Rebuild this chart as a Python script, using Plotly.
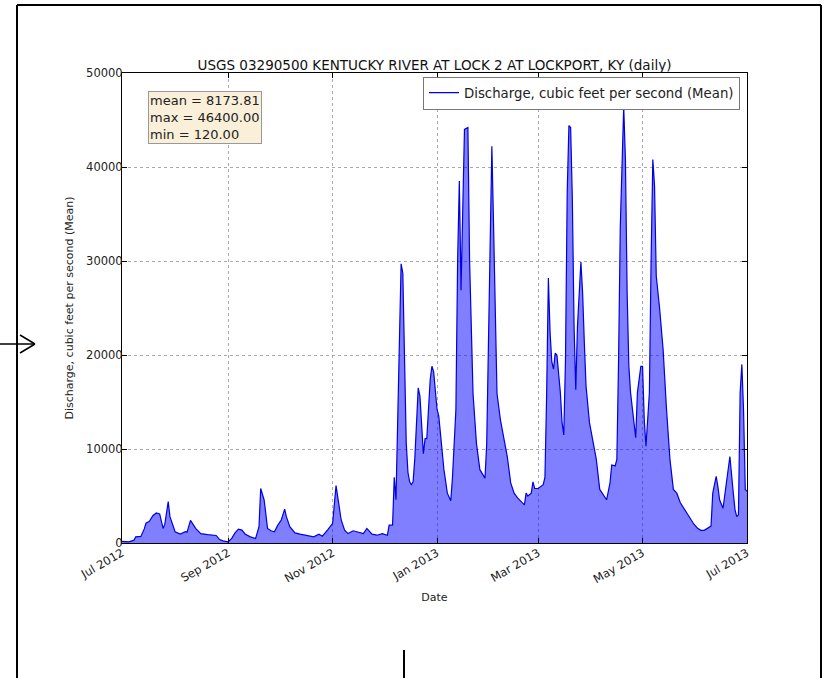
import plotly.graph_objects as go

# ---- data (daily mean discharge, cfs) ----
dates = [
    "2012-07-01", "2012-07-05", "2012-07-08", "2012-07-09", "2012-07-12", "2012-07-14", "2012-07-15",
    "2012-07-17", "2012-07-19", "2012-07-21", "2012-07-23", "2012-07-25", "2012-07-26", "2012-07-28",
    "2012-07-29", "2012-08-01", "2012-08-04", "2012-08-07", "2012-08-08", "2012-08-10", "2012-08-13",
    "2012-08-16", "2012-08-20", "2012-08-23", "2012-08-25", "2012-08-27", "2012-08-29", "2012-09-01",
    "2012-09-03", "2012-09-05", "2012-09-07", "2012-09-09", "2012-09-11", "2012-09-14", "2012-09-17",
    "2012-09-19", "2012-09-20", "2012-09-22", "2012-09-24", "2012-09-26", "2012-09-28", "2012-09-30",
    "2012-10-02", "2012-10-04", "2012-10-05", "2012-10-07", "2012-10-10", "2012-10-13", "2012-10-17",
    "2012-10-21", "2012-10-24", "2012-10-26", "2012-10-29", "2012-11-01", "2012-11-03", "2012-11-04",
    "2012-11-06", "2012-11-08", "2012-11-10", "2012-11-13", "2012-11-16", "2012-11-19", "2012-11-21",
    "2012-11-24", "2012-11-27", "2012-11-30", "2012-12-03", "2012-12-04", "2012-12-06", "2012-12-07",
    "2012-12-08", "2012-12-09", "2012-12-10", "2012-12-11", "2012-12-12", "2012-12-13", "2012-12-14",
    "2012-12-15", "2012-12-16", "2012-12-17", "2012-12-18", "2012-12-19", "2012-12-20", "2012-12-21",
    "2012-12-22", "2012-12-23", "2012-12-24", "2012-12-25", "2012-12-26", "2012-12-28", "2012-12-29",
    "2012-12-30", "2013-01-01", "2013-01-02", "2013-01-03", "2013-01-05", "2013-01-07", "2013-01-09",
    "2013-01-10", "2013-01-12", "2013-01-13", "2013-01-14", "2013-01-15", "2013-01-16", "2013-01-17",
    "2013-01-19", "2013-01-20", "2013-01-22", "2013-01-24", "2013-01-26", "2013-01-29", "2013-01-30",
    "2013-01-31", "2013-02-01", "2013-02-02", "2013-02-03", "2013-02-04", "2013-02-05", "2013-02-07",
    "2013-02-09", "2013-02-11", "2013-02-13", "2013-02-15", "2013-02-17", "2013-02-19", "2013-02-21",
    "2013-02-22", "2013-02-23", "2013-02-25", "2013-02-26", "2013-02-27", "2013-03-01", "2013-03-04",
    "2013-03-05", "2013-03-06", "2013-03-07", "2013-03-08", "2013-03-09", "2013-03-10", "2013-03-11",
    "2013-03-12", "2013-03-14", "2013-03-15", "2013-03-16", "2013-03-17", "2013-03-18", "2013-03-19",
    "2013-03-20", "2013-03-21", "2013-03-22", "2013-03-23", "2013-03-24", "2013-03-26", "2013-03-27",
    "2013-03-28", "2013-03-29", "2013-03-31", "2013-04-02", "2013-04-04", "2013-04-06", "2013-04-08",
    "2013-04-10", "2013-04-12", "2013-04-13", "2013-04-15", "2013-04-16", "2013-04-17", "2013-04-18",
    "2013-04-20", "2013-04-21", "2013-04-22", "2013-04-23", "2013-04-24", "2013-04-27", "2013-04-28",
    "2013-04-30", "2013-05-01", "2013-05-02", "2013-05-03", "2013-05-05", "2013-05-06", "2013-05-07",
    "2013-05-08", "2013-05-09", "2013-05-11", "2013-05-13", "2013-05-15", "2013-05-17", "2013-05-19",
    "2013-05-21", "2013-05-23", "2013-05-25", "2013-05-27", "2013-05-29", "2013-05-31", "2013-06-02",
    "2013-06-04", "2013-06-06", "2013-06-08", "2013-06-10", "2013-06-11", "2013-06-13", "2013-06-14",
    "2013-06-15", "2013-06-17", "2013-06-19", "2013-06-21", "2013-06-23", "2013-06-24", "2013-06-25",
    "2013-06-26", "2013-06-27", "2013-06-28", "2013-06-29", "2013-06-30", "2013-07-01",
]
discharge = [
    180, 120, 300, 650, 700, 1500, 2100,
    2300, 2900, 3200, 3100, 1550, 2000, 4400,
    2800, 1200, 940, 1200, 1150, 2400, 1550,
    1000, 900, 830, 800, 360, 220, 130,
    470, 1080, 1480, 1370, 940, 650, 470,
    1730, 5800, 4600, 1550, 1300, 1190, 1900,
    2450, 3600, 2800, 1730, 1080, 940, 830,
    650, 940, 720, 1370, 2100, 6100, 5000,
    2450, 1370, 1000, 1300, 1190, 1000, 1550,
    940, 830, 1000, 830, 1900, 1900, 7000,
    4600, 12000, 22000, 29700, 28700, 19500, 10600,
    7500, 6500, 6200, 6500, 9000, 12400, 16500,
    15600, 12400, 9500, 11100, 11100, 17400, 18800,
    18200, 14200, 13500, 11300, 7800, 5300, 4500,
    7000, 14200, 30000, 38500, 26900, 37200, 44000,
    44200, 30000, 15900, 10600, 7800, 6900, 10600,
    20000, 33000, 42200, 33700, 23000, 15900, 13100,
    11300, 9200, 6400, 5300, 4800, 4400, 4050,
    5300, 5000, 5300, 6500, 5800, 5800, 6200,
    7000, 15900, 28200, 22400, 19300, 18500, 20200,
    20000, 16000, 12800, 11500, 19500, 37300, 44400,
    44200, 36600, 23100, 16300, 23100, 29900, 26600,
    21300, 16700, 12800, 11000, 8900, 5700, 5100,
    4600, 6400, 8300, 8200, 8900, 19500, 33700,
    46400, 40800, 26600, 18800, 16000, 11200, 16000,
    18800, 18800, 13100, 10300, 16000, 30200, 40800,
    38000, 28400, 24900, 20600, 14200, 8900, 5700,
    5300, 4300, 3700, 3200, 2500, 2000, 1600,
    1350, 1350, 1600, 1800, 5300, 7100, 6000,
    4600, 3700, 6700, 9200, 5300, 3550, 2800,
    3000, 16000, 19000, 14000, 5700, 5500,
]

series_name = "Discharge, cubic feet per second (Mean)"
title_text = "USGS 03290500 KENTUCKY RIVER AT LOCK 2 AT LOCKPORT, KY (daily)"
stats_labels = ["mean", "max", "min"]
stats_values = [8173.81, 46400.00, 120.00]
y_ticks = [0, 10000, 20000, 30000, 40000, 50000]

FONT = "DejaVu Sans"
LINE_BLUE = "#0000e0"

fig = go.Figure()
fig.add_trace(go.Scatter(
    x=dates, y=discharge, mode="lines", fill="tozeroy",
    fillcolor="rgba(0,0,255,0.5)", line=dict(color=LINE_BLUE, width=1.2),
    showlegend=False, hoverinfo="x+y",
))
# legend entry drawn as a plain line (as in the reference)
fig.add_trace(go.Scatter(
    x=[None], y=[None], mode="lines", name=series_name,
    line=dict(color=LINE_BLUE, width=1.2),
))

stats_text = "<br>".join(f"{k} = {v:.2f}" for k, v in zip(stats_labels, stats_values))

# geometry helpers: plot area in pixels
L, R, T, B = 122, 81, 73, 135
W, H = 828, 678
PW, PH = W - L - R, H - T - B

def px(xp):
    return (xp - L) / PW

def py(yp):
    return (H - B - yp) / PH

fig.update_layout(
    width=W, height=H,
    margin=dict(l=L, r=R, t=T, b=B),
    paper_bgcolor="white", plot_bgcolor="white",
    font=dict(family=FONT, color="#222", size=11),
    title=dict(text=title_text, x=0.5, xref="paper", xanchor="center",
               y=1 - 65 / H, yref="container", yanchor="middle",
               font=dict(family=FONT, size=13.5, color="#111")),
    legend=dict(x=px(740), y=py(76.5), xanchor="right", yanchor="top",
                bgcolor="white", bordercolor="#777", borderwidth=1,
                font=dict(family=FONT, size=13.3, color="#222"),
                itemwidth=30),
    showlegend=True,
    annotations=[dict(
        text=stats_text, xref="paper", yref="paper",
        x=px(148), y=py(91), xanchor="left", yanchor="top",
        align="left", showarrow=False,
        font=dict(family=FONT, size=13, color="#222"),
        bgcolor="#faefd9", bordercolor="#999", borderwidth=1, borderpad=1,
    )],
    shapes=[
        # outer frame around the figure
        dict(type="line", xref="paper", yref="paper", x0=px(17), x1=px(17), y0=py(5), y1=py(690),
             line=dict(color="black", width=2)),
        dict(type="line", xref="paper", yref="paper", x0=px(17), x1=px(821), y0=py(5), y1=py(5),
             line=dict(color="black", width=2)),
        dict(type="line", xref="paper", yref="paper", x0=px(821), x1=px(821), y0=py(5), y1=py(690),
             line=dict(color="black", width=2)),
        # arrow on the left
        dict(type="line", xref="paper", yref="paper", x0=px(-5), x1=px(35), y0=py(344), y1=py(344),
             line=dict(color="black", width=1.5)),
        dict(type="line", xref="paper", yref="paper", x0=px(20), x1=px(35), y0=py(335), y1=py(344),
             line=dict(color="black", width=1.5)),
        dict(type="line", xref="paper", yref="paper", x0=px(20), x1=px(35), y0=py(353), y1=py(344),
             line=dict(color="black", width=1.5)),
        # vertical mark at bottom
        dict(type="line", xref="paper", yref="paper", x0=px(404), x1=px(404), y0=py(650), y1=py(690),
             line=dict(color="black", width=2)),
    ],
)

fig.update_xaxes(
    type="date", range=["2012-07-01", "2013-07-01"],
    tick0="2012-07-01", dtick="M2", tickformat="%b %Y", tickangle=-30,
    ticks="inside", ticklen=5, tickcolor="black", mirror="allticks",
    showline=True, linecolor="black", linewidth=1,
    showgrid=True, gridcolor="#aaaaaa", griddash="dot", gridwidth=1,
    zeroline=False, ticklabelstandoff=-2,
    tickfont=dict(family=FONT, size=11.5, color="#222"),
    title=dict(text="Date", font=dict(family=FONT, size=11, color="#222"), standoff=8),
)
fig.update_yaxes(
    range=[0, 50000], tickvals=y_ticks, ticktext=[str(v) for v in y_ticks],
    ticks="inside", ticklen=5, tickcolor="black", mirror="allticks",
    showline=True, linecolor="black", linewidth=1,
    showgrid=True, gridcolor="#aaaaaa", griddash="dot", gridwidth=1,
    zeroline=False, ticklabelstandoff=-4,
    tickfont=dict(family=FONT, size=11.5, color="#222"),
    title=dict(text=series_name, font=dict(family=FONT, size=11, color="#222"), standoff=10),
)

fig.write_html("out.html",
               config={"displayModeBar": False},
               post_script="document.body.style.margin='0px';document.body.style.padding='0px';")
